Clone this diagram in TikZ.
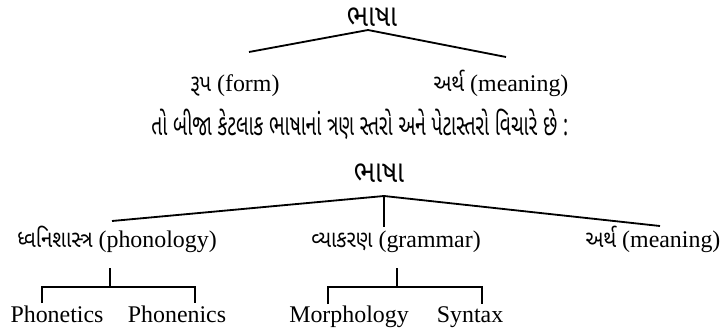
\documentclass[tikz,border=0pt]{standalone}
\usepackage{fontspec}
\setmainfont{Liberation Serif}
\newfontfamily\gujfont[Script=Gujarati, FakeStretch=0.65]{Noto Sans Gujarati UI}
\newfontfamily\gujlabel[Script=Gujarati, FakeStretch=0.85]{Noto Sans Gujarati UI}
\usetikzlibrary{calc}

\begin{document}
\begin{tikzpicture}[
  lbl/.style={inner sep=1pt, anchor=base, font=\fontsize{17}{19}\selectfont},
  guj/.style={inner sep=1pt, font=\fontsize{21}{23}\selectfont\gujfont},
  root/.style={inner sep=1pt, font=\fontsize{22}{24}\selectfont\gujlabel},
  branch/.style={line width=1.3pt},
]
  \useasboundingbox (0,0) rectangle (18.025,8.275);

  % First tree
  \node[root] (bhasha) at (9.30,7.85) {ભાષા};
  \coordinate (top) at (9.20,7.525);
  \coordinate (formend) at (6.225,6.975);
  \coordinate (meanend) at (12.65,6.85);
  \draw[branch] (formend) -- (top) -- (meanend);
  \node[lbl] (form) at (5.875,6.0) {{\gujlabel રૂપ} (form)};
  \node[lbl] (meaning) at (12.525,6.0) {{\gujlabel અર્થ} (meaning)};

  % Sentence
  \node[guj] (sentence) at (9.0,5.175) {તો બીજા કેટલાક ભાષાનાં ત્રણ સ્તરો અને પેટાસ્તરો વિચારે છે :};

  % Second tree
  \node[root] (bhashatwo) at (9.475,3.95) {ભાષા};
  \coordinate (toptwo) at (9.6,3.375);
  \coordinate (phonend) at (2.8,2.75);
  \coordinate (meanendtwo) at (16.5,2.625);
  \coordinate (gramend) at (9.6,2.6);
  \draw[branch] (phonend) -- (toptwo) -- (meanendtwo);
  \draw[branch] (toptwo) -- (gramend);
  \node[lbl] (phonology) at (2.925,2.1) {{\gujlabel ધ્વનિશાસ્ત્ર} (phonology)};
  \node[lbl] (grammar) at (9.9,2.1) {{\gujlabel વ્યાકરણ} (grammar)};
  \node[lbl] (meaningtwo) at (16.325,2.1) {{\gujlabel અર્થ} (meaning)};

  % Sub-levels
  \node[lbl] (phonetics) at (1.425,0.225) {Phonetics};
  \node[lbl] (phonenics) at (4.425,0.225) {Phonenics};
  \node[lbl] (morphology) at (8.725,0.225) {Morphology};
  \node[lbl] (syntax) at (11.75,0.225) {Syntax};

  \coordinate (phonstem) at (2.75,1.575);
  \coordinate (gramstem) at (9.925,1.575);
  \draw[branch] (phonstem) -- (2.75,1.1);
  \draw[branch] (1.05,0.7) |- (2.75,1.1) -| (4.875,0.7);
  \draw[branch] (gramstem) -- (9.925,1.1);
  \draw[branch] (8.2,0.675) |- (9.925,1.1) -| (12.05,0.675);
\end{tikzpicture}
\end{document}
